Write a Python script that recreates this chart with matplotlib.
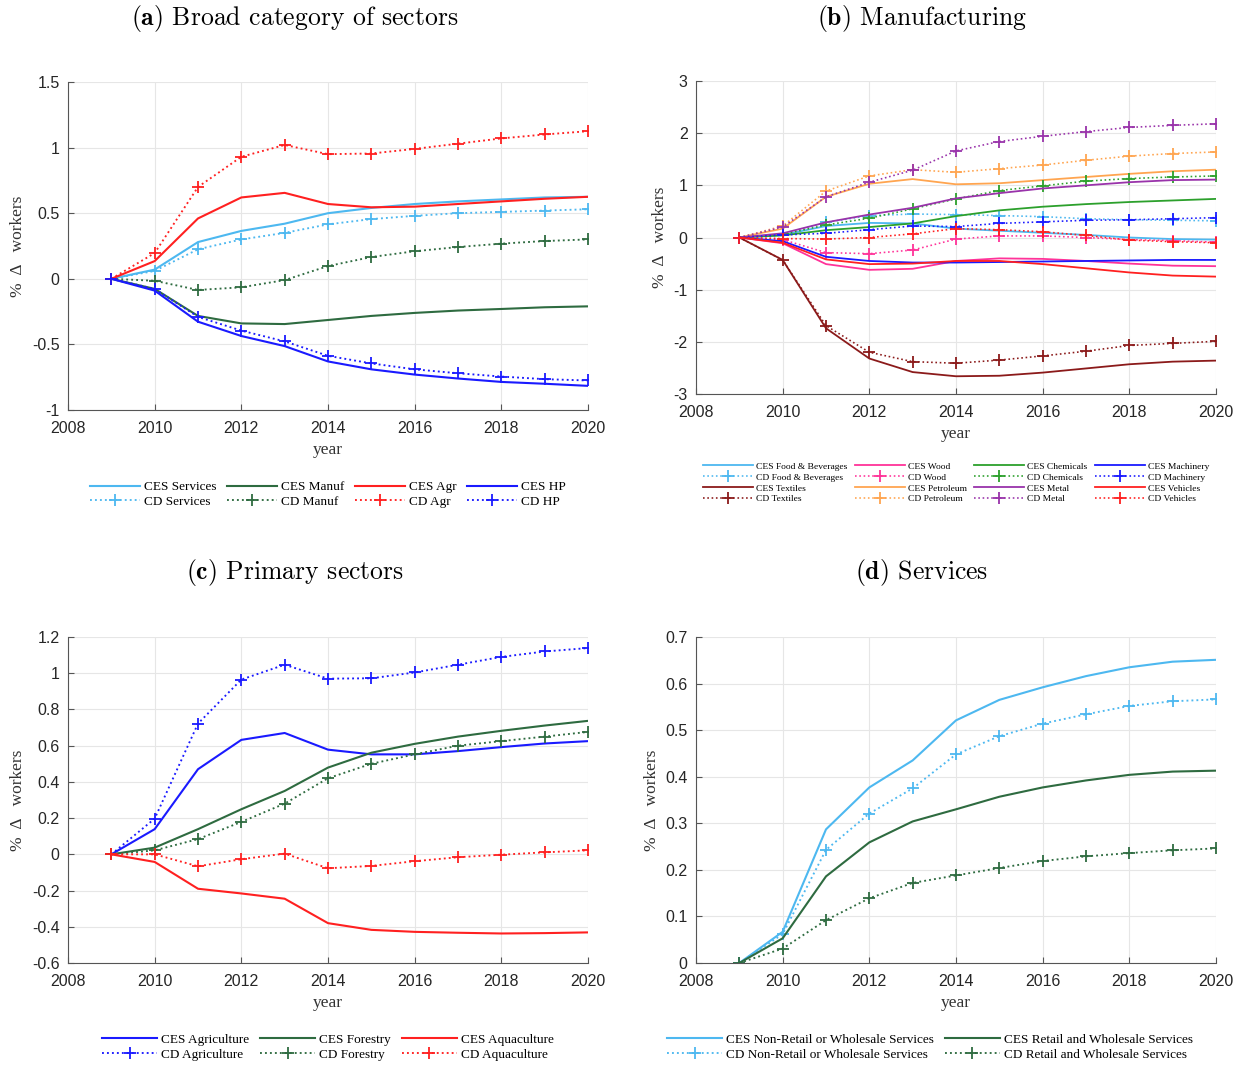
import numpy as np
import matplotlib
matplotlib.use("Agg")
import matplotlib.pyplot as plt

years = np.arange(2009, 2021)

# (a) broad categories
ces_services = [0, 0.07, 0.28, 0.365, 0.42, 0.50, 0.54, 0.57, 0.59, 0.605, 0.62, 0.625]
cd_services = [0, 0.06, 0.225, 0.30, 0.35, 0.415, 0.455, 0.48, 0.50, 0.51, 0.52, 0.53]
ces_manuf = [0, -0.077, -0.283, -0.34, -0.345, -0.314, -0.283, -0.26, -0.242, -0.23, -0.217, -0.21]
cd_manuf = [0, -0.015, -0.085, -0.065, -0.01, 0.097, 0.166, 0.21, 0.242, 0.268, 0.288, 0.30]
ces_agr = [0, 0.135, 0.46, 0.62, 0.655, 0.57, 0.545, 0.55, 0.57, 0.59, 0.61, 0.625]
cd_agr = [0, 0.196, 0.70, 0.93, 1.02, 0.95, 0.955, 0.99, 1.03, 1.07, 1.10, 1.125]
ces_hp = [0, -0.09, -0.327, -0.436, -0.513, -0.63, -0.69, -0.73, -0.76, -0.786, -0.80, -0.816]
cd_hp = [0, -0.077, -0.29, -0.395, -0.477, -0.587, -0.645, -0.69, -0.72, -0.745, -0.765, -0.775]

# (b) manufacturing
ces_food = [0, 0.05, 0.22, 0.28, 0.27, 0.17, 0.13, 0.09, 0.05, 0.0, -0.03, -0.04]
cd_food = [0, 0.06, 0.29, 0.42, 0.45, 0.44, 0.42, 0.40, 0.36, 0.34, 0.33, 0.32]
ces_textiles = [0, -0.43, -1.74, -2.32, -2.58, -2.66, -2.65, -2.59, -2.51, -2.43, -2.38, -2.36]
cd_textiles = [0, -0.43, -1.69, -2.20, -2.38, -2.41, -2.35, -2.27, -2.18, -2.07, -2.03, -1.99]
ces_wood = [0, -0.11, -0.51, -0.62, -0.60, -0.45, -0.40, -0.41, -0.45, -0.50, -0.54, -0.55]
cd_wood = [0, -0.04, -0.29, -0.31, -0.24, -0.03, 0.03, 0.03, 0.0, -0.04, -0.06, -0.09]
ces_petroleum = [0, 0.17, 0.78, 1.03, 1.12, 1.02, 1.04, 1.10, 1.16, 1.22, 1.27, 1.30]
cd_petroleum = [0, 0.22, 0.89, 1.18, 1.30, 1.25, 1.32, 1.39, 1.48, 1.56, 1.61, 1.64]
ces_chemicals = [0, 0.04, 0.14, 0.20, 0.27, 0.41, 0.52, 0.59, 0.64, 0.68, 0.71, 0.74]
cd_chemicals = [0, 0.06, 0.24, 0.37, 0.55, 0.74, 0.90, 0.99, 1.08, 1.13, 1.16, 1.18]
ces_metal = [0, 0.08, 0.29, 0.44, 0.57, 0.75, 0.85, 0.94, 1.00, 1.06, 1.10, 1.11]
cd_metal = [0, 0.20, 0.78, 1.06, 1.29, 1.66, 1.84, 1.94, 2.03, 2.11, 2.15, 2.18]
ces_machinery = [0, -0.07, -0.37, -0.45, -0.48, -0.48, -0.47, -0.46, -0.45, -0.44, -0.43, -0.43]
cd_machinery = [0, 0.05, 0.08, 0.15, 0.22, 0.21, 0.27, 0.30, 0.33, 0.34, 0.36, 0.38]
ces_vehicles = [0, -0.10, -0.42, -0.51, -0.50, -0.45, -0.45, -0.51, -0.59, -0.67, -0.73, -0.75]
cd_vehicles = [0, -0.02, -0.03, 0.0, 0.07, 0.17, 0.15, 0.11, 0.04, -0.05, -0.08, -0.10]

# (c) primary sectors
ces_agriculture = [0, 0.139, 0.47, 0.632, 0.67, 0.578, 0.552, 0.552, 0.57, 0.592, 0.612, 0.625]
cd_agriculture = [0, 0.197, 0.722, 0.965, 1.047, 0.97, 0.972, 1.004, 1.047, 1.09, 1.12, 1.139]
ces_forestry = [0, 0.037, 0.139, 0.249, 0.35, 0.479, 0.561, 0.61, 0.65, 0.682, 0.711, 0.737]
cd_forestry = [0, 0.022, 0.084, 0.179, 0.28, 0.42, 0.50, 0.552, 0.60, 0.625, 0.65, 0.676]
ces_aquaculture = [0, -0.042, -0.19, -0.216, -0.245, -0.38, -0.417, -0.428, -0.433, -0.437, -0.435, -0.431]
cd_aquaculture = [0, 0.0, -0.066, -0.027, 0.004, -0.077, -0.064, -0.038, -0.016, -0.002, 0.011, 0.022]

# (d) services
ces_nonretail = [0, 0.067, 0.287, 0.377, 0.435, 0.521, 0.565, 0.592, 0.616, 0.635, 0.647, 0.651]
cd_nonretail = [0, 0.062, 0.243, 0.321, 0.375, 0.448, 0.487, 0.514, 0.534, 0.552, 0.562, 0.566]
ces_retail = [0, 0.053, 0.186, 0.259, 0.304, 0.33, 0.357, 0.377, 0.392, 0.404, 0.411, 0.413]
cd_retail = [0, 0.031, 0.092, 0.139, 0.172, 0.188, 0.204, 0.219, 0.229, 0.236, 0.242, 0.246]

LBLUE = "#4db8f0"
DGREEN = "#2e6b40"
RED = "#ff2020"
BLUE = "#1a1aff"
PINK = "#ff3399"
DRED = "#8b1a1a"
ORANGE = "#ffa550"
GREEN = "#2ca02c"
PURPLE = "#9933aa"

plt.rcParams["mathtext.fontset"] = "cm"
serif = ["Liberation Serif", "DejaVu Serif"]
sans = ["Liberation Sans", "DejaVu Sans"]

fig = plt.figure(figsize=(12.45, 10.65), dpi=100)
W, H = 1245, 1065


def make_ax(x0, x1, y0, y1):
    return fig.add_axes([x0 / W, 1 - y1 / H, (x1 - x0) / W, (y1 - y0) / H])


def style(ax, ylim, yticks, ytl):
    ax.set_xlim(2008, 2020)
    ax.set_ylim(*ylim)
    ax.set_xticks(range(2008, 2021, 2))
    ax.set_yticks(yticks)
    ax.set_yticklabels(ytl)
    ax.grid(True, color="#e6e6e6", linewidth=0.8)
    ax.set_axisbelow(True)
    for s in ["top", "right"]:
        ax.spines[s].set_visible(False)
    for s in ["left", "bottom"]:
        ax.spines[s].set_color("#555555")
    ax.tick_params(direction="in", length=4, color="#555555", labelsize=11.5,
                   labelcolor="#262626")
    ax.tick_params(axis="x", pad=8)
    ax.tick_params(axis="y", pad=6)
    for t in ax.get_xticklabels() + ax.get_yticklabels():
        t.set_family(sans)
    ax.set_xlabel("year", family=serif, fontsize=12.5, color="#333333", labelpad=4)
    ax.set_ylabel("%  Δ   workers", family=serif, fontsize=12.5, color="#333333", labelpad=4)


def pair(ax, ces, cd, color, name, lw=1.5):
    ax.plot(years, ces, color=color, lw=lw, label="CES " + name)
    ax.plot(years, cd, color=color, lw=lw * 0.9, ls=":", marker="+", ms=9, mew=1.3,
            label="CD " + name)


def title(x, y, tag, text):
    fig.text(x / W, 1 - y / H, r"$\mathbf{" + tag + "}$ " + text, ha="center", va="center",
             family="cmr10", fontsize=18.5)


# (a)
ax = make_ax(68, 588, 82, 410)
pair(ax, ces_services, cd_services, LBLUE, "Services")
pair(ax, ces_manuf, cd_manuf, DGREEN, "Manuf")
pair(ax, ces_agr, cd_agr, RED, "Agr")
pair(ax, ces_hp, cd_hp, BLUE, "HP")
style(ax, (-1, 1.5), [-1, -0.5, 0, 0.5, 1, 1.5], ["-1", "-0.5", "0", "0.5", "1", "1.5"])
ax.legend(ncol=4, loc="upper center", bbox_to_anchor=(0.5, -0.18), frameon=False,
          prop={"family": serif, "size": 9.5}, handlelength=3.8, handletextpad=0.3,
          columnspacing=0.8, labelspacing=0.2)
title(295, 18, "(a)", "Broad category of sectors")

# (b)
ax = make_ax(696, 1216, 81, 394)
pair(ax, ces_food, cd_food, LBLUE, "Food & Beverages", 1.3)
pair(ax, ces_textiles, cd_textiles, DRED, "Textiles", 1.3)
pair(ax, ces_wood, cd_wood, PINK, "Wood", 1.3)
pair(ax, ces_petroleum, cd_petroleum, ORANGE, "Petroleum", 1.3)
pair(ax, ces_chemicals, cd_chemicals, GREEN, "Chemicals", 1.3)
pair(ax, ces_metal, cd_metal, PURPLE, "Metal", 1.3)
pair(ax, ces_machinery, cd_machinery, BLUE, "Machinery", 1.3)
pair(ax, ces_vehicles, cd_vehicles, RED, "Vehicles", 1.3)
style(ax, (-3, 3), [-3, -2, -1, 0, 1, 2, 3], ["-3", "-2", "-1", "0", "1", "2", "3"])
ax.legend(ncol=4, loc="upper center", bbox_to_anchor=(0.5, -0.19), frameon=False,
          prop={"family": serif, "size": 6.8}, handlelength=5.3, handletextpad=0.3,
          columnspacing=0.8, labelspacing=0.25)
title(922, 18, "(b)", "Manufacturing")

# (c)
ax = make_ax(68, 588, 637, 963)
pair(ax, ces_agriculture, cd_agriculture, BLUE, "Agriculture")
pair(ax, ces_forestry, cd_forestry, DGREEN, "Forestry")
pair(ax, ces_aquaculture, cd_aquaculture, RED, "Aquaculture")
style(ax, (-0.6, 1.2), [-0.6, -0.4, -0.2, 0, 0.2, 0.4, 0.6, 0.8, 1, 1.2],
      ["-0.6", "-0.4", "-0.2", "0", "0.2", "0.4", "0.6", "0.8", "1", "1.2"])
ax.legend(ncol=3, loc="upper center", bbox_to_anchor=(0.5, -0.18), frameon=False,
          prop={"family": serif, "size": 9.5}, handlelength=4.2, handletextpad=0.3,
          columnspacing=0.8, labelspacing=0.2)
title(295, 572, "(c)", "Primary sectors")

# (d)
ax = make_ax(696, 1216, 637, 963)
pair(ax, ces_nonretail, cd_nonretail, LBLUE, "Non-Retail or Wholesale Services")
pair(ax, ces_retail, cd_retail, DGREEN, "Retail and Wholesale Services")
style(ax, (0, 0.7), [0, 0.1, 0.2, 0.3, 0.4, 0.5, 0.6, 0.7],
      ["0", "0.1", "0.2", "0.3", "0.4", "0.5", "0.6", "0.7"])
ax.legend(ncol=2, loc="upper center", bbox_to_anchor=(0.45, -0.18), frameon=False,
          prop={"family": serif, "size": 9.5}, handlelength=4.2, handletextpad=0.3,
          columnspacing=0.8, labelspacing=0.2)
title(922, 572, "(d)", "Services")

fig.savefig("out.png", dpi=100)
